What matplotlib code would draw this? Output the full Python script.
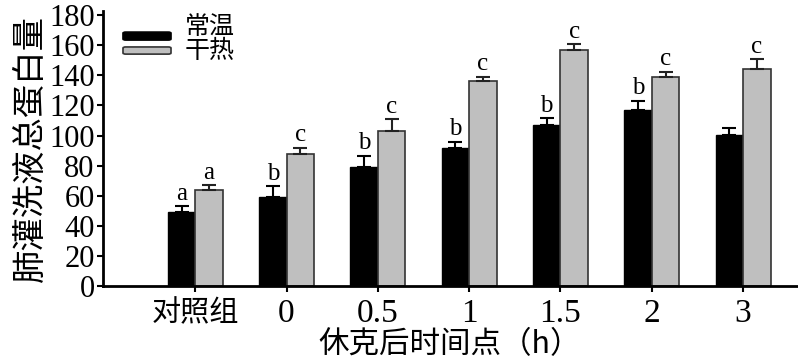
import matplotlib
matplotlib.use("Agg")
import matplotlib.pyplot as plt
import numpy as np
from matplotlib.patches import FancyBboxPatch

categories = ["对照组", "0", "0.5", "1", "1.5", "2", "3"]
normal = [48.9, 59.1, 78.9, 92.0, 107.0, 117.0, 100.5]
normal_err = [4.0, 7.1, 7.8, 4.0, 4.4, 6.0, 4.7]
hot = [63.5, 87.5, 103.0, 136.4, 156.8, 138.9, 144.2]
hot_err = [3.6, 4.4, 7.7, 2.5, 3.8, 3.5, 6.4]
normal_letters = ["a", "b", "b", "b", "b", "b", ""]
hot_letters = ["a", "c", "c", "c", "c", "c", "c"]
series_names = ["常温", "干热"]
yticks = [0, 20, 40, 60, 80, 100, 120, 140, 160, 180]

cjk = ["Noto Sans CJK SC", "DejaVu Sans"]
serif = ["Liberation Serif", "DejaVu Serif"]
black_c = "black"
gray_c = "#bfbfbf"

fig = plt.figure(figsize=(7.98, 3.64), dpi=100)
ax = fig.add_axes([103/798, 78/364, (797-103)/798, (286-10.6)/364])

x = np.arange(len(categories))
w = 0.30
ax.bar(x - w/2, normal, w, color=black_c, edgecolor="black", linewidth=1,
       yerr=[np.zeros(len(normal)), normal_err], capsize=5,
       error_kw=dict(ecolor="black", elinewidth=1.5, capthick=1.5))
ax.bar(x + w/2, hot, w, color=gray_c, edgecolor="#333333", linewidth=1.2,
       yerr=[np.zeros(len(hot)), hot_err], capsize=5,
       error_kw=dict(ecolor="#222222", elinewidth=1.5, capthick=1.5))

for i in range(len(categories)):
    if normal_letters[i]:
        ax.text(x[i] - w/2, normal[i] + normal_err[i] + 1.0, normal_letters[i],
                ha="center", va="bottom", fontsize=18, family=serif)
    if hot_letters[i]:
        ax.text(x[i] + w/2, hot[i] + hot_err[i] + 1.0, hot_letters[i],
                ha="center", va="bottom", fontsize=18, family=serif)

ax.set_xlim(-1.01, 6.59)
ax.set_ylim(0, 183)
ax.set_yticks(yticks)
ax.set_yticklabels([str(v) for v in yticks], family=serif, fontsize=22)
ax.set_xticks(x)
ax.set_xticklabels(categories)
for lbl in ax.get_xticklabels():
    if lbl.get_text() == "对照组":
        lbl.set_family(cjk)
        lbl.set_fontsize(21)
    else:
        lbl.set_family(serif)
        lbl.set_fontsize(24)

ax.spines["top"].set_visible(False)
ax.spines["right"].set_visible(False)
ax.spines["left"].set_linewidth(2)
ax.spines["bottom"].set_linewidth(2)
ax.tick_params(axis="y", direction="out", length=4, width=1.5, pad=2)
ax.tick_params(axis="x", direction="out", length=4, width=1.5, pad=5)

ax.set_xlabel("休克后时间点（h）", family=cjk, fontsize=22, labelpad=0)
ax.set_ylabel("肺灌洗液总蛋白量", family=cjk, fontsize=24, labelpad=1)

# legend (drawn manually to match the compact layout)
leg_specs = [(black_c, "black", 0.893, 0.029, 0.940),
             (gray_c, "#333333", 0.842, 0.026, 0.853)]
for (fc, ec, y0, h, ty), name in zip(leg_specs, series_names):
    ax.add_patch(FancyBboxPatch((0.0288, y0), 0.0692, h,
                                boxstyle="round,pad=0,rounding_size=0.004",
                                transform=ax.transAxes, facecolor=fc,
                                edgecolor=ec, linewidth=1.2, clip_on=False))
    ax.text(0.118, ty, name, transform=ax.transAxes, family=cjk, fontsize=18,
            ha="left", va="center")

fig.savefig("out.png", dpi=100)
